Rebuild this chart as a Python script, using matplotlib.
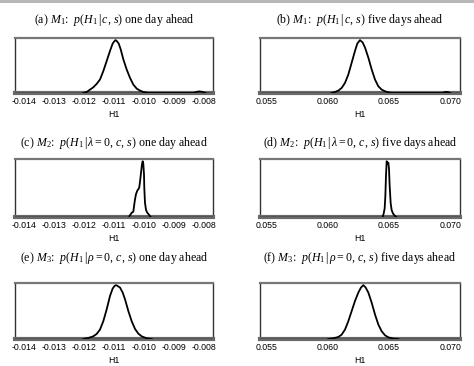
import matplotlib
matplotlib.use("Agg")
import matplotlib.pyplot as plt
from matplotlib.patches import Rectangle

plt.rcParams['mathtext.fontset'] = 'custom'
plt.rcParams['mathtext.rm'] = 'Liberation Serif'
plt.rcParams['mathtext.it'] = 'Liberation Serif:italic'

# ---- data (posterior densities, normalised to peak = 1) ----
a_x = [-0.012022, -0.011911, -0.0118, -0.011689, -0.011578, -0.011467, -0.011356, -0.011244,
       -0.011133, -0.011044, -0.010978, -0.01095, -0.010911, -0.010844, -0.010778, -0.010689,
       -0.010578, -0.010467, -0.010356, -0.010244, -0.010133, -0.010022, -0.009856,
       -0.00835, -0.00825, -0.00815, -0.00805, -0.00795]
a_y = [0.0, 0.019, 0.064, 0.108, 0.172, 0.255, 0.414, 0.605, 0.796, 0.936, 0.985, 1.0, 0.985,
       0.936, 0.828, 0.637, 0.446, 0.287, 0.159, 0.083, 0.045, 0.019, 0.0,
       0.0, 0.02, 0.03, 0.02, 0.0]

b_x = [0.060341, 0.060612, 0.060884, 0.061156, 0.061427, 0.061699, 0.061971, 0.062242,
       0.062433, 0.06265, 0.062867, 0.063057, 0.063329, 0.063601, 0.063872, 0.064144,
       0.064416, 0.064687, 0.064959, 0.065231,
       0.0694, 0.0696, 0.0698, 0.0700]
b_y = [0.0, 0.019, 0.045, 0.096, 0.191, 0.350, 0.573, 0.796, 0.936, 1.0, 0.955, 0.860, 0.669,
       0.446, 0.255, 0.127, 0.064, 0.032, 0.013, 0.0,
       0.0, 0.02, 0.02, 0.0]

c_x = [-0.01049, -0.010411, -0.010356, -0.010333, -0.0103, -0.010267, -0.010222, -0.010178,
       -0.010156, -0.010133, -0.0101, -0.010067, -0.010044, -0.010022, -0.01, -0.009989,
       -0.009967, -0.009933, -0.009889, -0.009822, -0.009778]
c_y = [0.013, 0.076, 0.095, 0.19, 0.316, 0.41, 0.475, 0.506, 0.538, 0.633, 0.79, 0.95, 1.0,
       0.95, 0.76, 0.506, 0.253, 0.127, 0.076, 0.032, 0.0]

d_x = [0.064497, 0.064579, 0.06466, 0.064715, 0.064769, 0.064823, 0.064905, 0.064959,
       0.065013, 0.065068, 0.06515, 0.065231, 0.06534, 0.065503, 0.065611]
d_y = [0.0, 0.062, 0.154, 0.370, 0.741, 1.0, 0.957, 0.975, 0.864, 0.556, 0.247, 0.123,
       0.062, 0.019, 0.0]

e_x = [-0.012022, -0.011856, -0.011689, -0.011578, -0.011467, -0.011356, -0.011244, -0.011133,
       -0.011044, -0.010978, -0.010933, -0.010889, -0.0108, -0.010711, -0.010633, -0.010522,
       -0.010411, -0.0103, -0.010189, -0.010078, -0.009911, -0.009744]
e_y = [0.0, 0.019, 0.05, 0.094, 0.175, 0.331, 0.55, 0.80, 0.9375, 0.9875, 1.0, 0.9875, 0.956,
       0.8625, 0.7375, 0.519, 0.331, 0.1875, 0.1, 0.05, 0.0125, 0.0]

f_x = [0.060069, 0.060477, 0.060884, 0.061156, 0.061427, 0.061699, 0.061971, 0.062242,
       0.062514, 0.062731, 0.062922, 0.063112, 0.063329, 0.063601, 0.063872, 0.064144,
       0.064416, 0.064687, 0.064959, 0.065367, 0.065774]
f_y = [0.0, 0.0125, 0.0375, 0.081, 0.175, 0.331, 0.519, 0.706, 0.8625, 0.956, 1.0, 0.956,
       0.8625, 0.675, 0.456, 0.269, 0.144, 0.069, 0.031, 0.0063, 0.0]

left_ticks = [-0.014, -0.013, -0.012, -0.011, -0.010, -0.009, -0.008]
left_labels = ['-0.014', '-0.013', '-0.012', '-0.011', '-0.010', '-0.009', '-0.008']
right_ticks = [0.055, 0.060, 0.065, 0.070]
right_labels = ['0.055', '0.060', '0.065', '0.070']

titles = [
    r"(a) $M_1$:  $p(H_1\,|\,c,\,s)$ one day ahead",
    r"(b) $M_1$:  $p(H_1\,|\,c,\,s)$ five days ahead",
    r"(c) $M_2$:  $p(H_1\,|\,\lambda = 0,\,c,\,s)$ one day ahead",
    r"(d) $M_2$:  $p(H_1\,|\,\lambda = 0,\,c,\,s)$ five days ahead",
    r"(e) $M_3$:  $p(H_1\,|\,\rho = 0,\,c,\,s)$ one day ahead",
    r"(f) $M_3$:  $p(H_1\,|\,\rho = 0,\,c,\,s)$ five days ahead",
]
series = [(a_x, a_y), (b_x, b_y), (c_x, c_y), (d_x, d_y), (e_x, e_y), (f_x, f_y)]

W, H = 474, 366
fig = plt.figure(figsize=(W / 100, H / 100), dpi=100)
fig.add_artist(Rectangle((0, 1 - 3 / H), 1, 3 / H, transform=fig.transFigure,
                         color='#b8b8b8', lw=0))

cols = [(15, 213), (260, 460)]
rows = [(38, 93), (159, 217), (283, 339)]
title_pads = [10.5, 9.0, 15.5]

for i, (xs, ys) in enumerate(series):
    r, c = divmod(i, 2)
    x0, x1 = cols[c]
    y0, y1 = rows[r]
    ax = fig.add_axes([x0 / W, 1 - y1 / H, (x1 - x0) / W, (y1 - y0) / H])
    if c == 0:
        ax.set_xlim(-0.0143, -0.0077)
        ax.set_xticks(left_ticks)
        ax.set_xticklabels(left_labels)
    else:
        ax.set_xlim(0.0545, 0.0708)
        ax.set_xticks(right_ticks)
        ax.set_xticklabels(right_labels)
    ax.set_ylim(0, 1.04)
    ax.set_yticks([])
    ax.axhline(0, color='black', lw=1.0, zorder=3)
    ax.plot(xs, ys, color='black', lw=1.3, zorder=4)
    ax.tick_params(axis='x', length=0, pad=3, labelsize=6.3)
    for lab in ax.get_xticklabels():
        lab.set_fontfamily('Liberation Sans')
    ax.set_xlabel('H1', fontsize=6.3, fontfamily='Liberation Sans', labelpad=2.5)
    ax.set_title(titles[i], fontsize=8.6, fontfamily='Liberation Serif', pad=title_pads[r])
    for s in ['left', 'right']:
        ax.spines[s].set_color('#333333')
        ax.spines[s].set_linewidth(1.0)
    ax.spines['top'].set_color('#777777')
    ax.spines['top'].set_linewidth(1.6)
    ax.spines['bottom'].set_color('#6a6a6a')
    ax.spines['bottom'].set_linewidth(3.0)

fig.savefig('out.png', dpi=100)
